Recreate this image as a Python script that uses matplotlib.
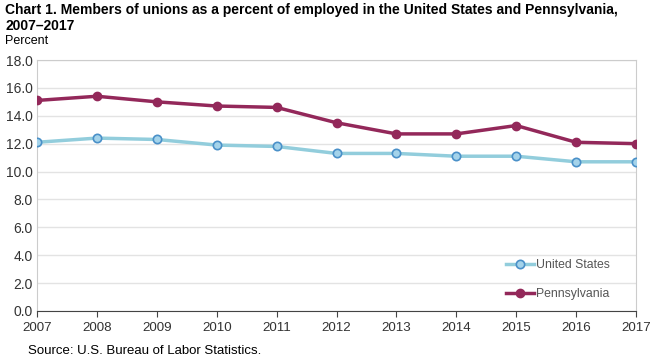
import matplotlib
matplotlib.use("Agg")
import matplotlib.pyplot as plt

years = [2007, 2008, 2009, 2010, 2011, 2012, 2013, 2014, 2015, 2016, 2017]
us = [12.1, 12.4, 12.3, 11.9, 11.8, 11.3, 11.3, 11.1, 11.1, 10.7, 10.7]
pa = [15.1, 15.4, 15.0, 14.7, 14.6, 13.5, 12.7, 12.7, 13.3, 12.1, 12.0]
yticks = [0, 2, 4, 6, 8, 10, 12, 14, 16, 18]

plt.rcParams['font.family'] = ['Liberation Sans', 'DejaVu Sans']

fig = plt.figure(figsize=(6.5, 3.57), dpi=100)
ax = fig.add_axes([37/650, 1-311/357, 599/650, 251/357])

ax.plot(years, us, color='#92cddc', lw=2.5, marker='o', ms=6,
        mfc='#a4d3ea', mec='#4a90c8', mew=1.2, label='United States', zorder=3)
ax.plot(years, pa, color='#93285a', lw=2.5, marker='o', ms=6,
        mfc='#93285a', mec='#93285a', label='Pennsylvania', zorder=3)

ax.set_xlim(2007, 2017)
ax.set_ylim(0, 18)
ax.set_yticks(yticks)
ax.set_yticklabels([f"{v:.1f}" for v in yticks])
ax.set_xticks(years)
ax.set_xticklabels([str(y) for y in years])
ax.grid(axis='y', color='#e3e3e3', lw=1)
ax.set_axisbelow(True)
for s in ['top', 'right']:
    ax.spines[s].set_color('#cccccc')
ax.spines['left'].set_color('#cccccc')
ax.spines['bottom'].set_color('#444444')
ax.tick_params(axis='y', length=0, labelsize=10, colors='#333333', pad=3)
ax.tick_params(axis='x', length=4, labelsize=9.6, colors='#333333', pad=4, direction='out')
ax.tick_params(axis='x', color='#444444')

leg = ax.legend(loc='lower right', bbox_to_anchor=(0.975, 0.0), frameon=False,
                fontsize=8.8, labelspacing=1.4, handlelength=2.3, handletextpad=0.15,
                labelcolor='#555555')

fig.text(5/650, 1-3/357, "Chart 1. Members of unions as a percent of employed in the United States and Pennsylvania,\n2007\u20132017",
         fontsize=10, fontweight='bold', va='top', ha='left', linespacing=1.2)
fig.text(5/650, 1-41/357, "Percent", fontsize=9, va='center', ha='left')
fig.text(28/650, 1-351/357, "Source: U.S. Bureau of Labor Statistics.", fontsize=9.5, va='center', ha='left')

fig.savefig("out.png", dpi=100)
